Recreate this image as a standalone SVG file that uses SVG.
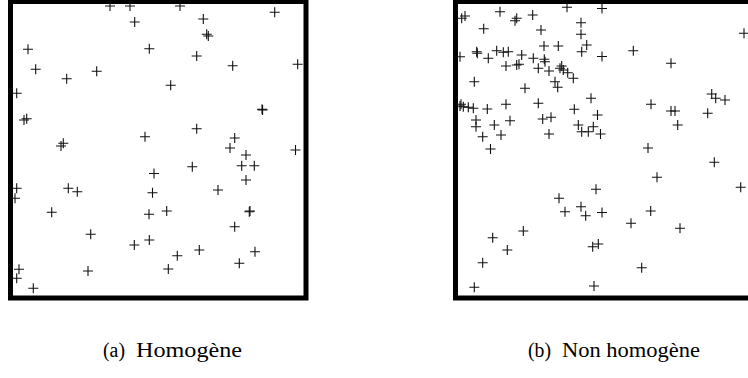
<svg xmlns="http://www.w3.org/2000/svg" xmlns:xlink="http://www.w3.org/1999/xlink" width="748" height="378" viewBox="0 0 748 378">
<style>
.frame{fill:none;stroke:#000;stroke-width:5}
.cap{font-family:"Liberation Serif","DejaVu Serif",serif;font-size:20px;fill:#000}
</style>
<defs>
<path id="p" d="M-5 0H5M0-5V5" stroke="#111" stroke-width="1.1" fill="none"/>
</defs>
<rect width="748" height="378" fill="#fff"/>
<g id="plotA">
<rect class="frame" x="10.5" y="1.5" width="295.5" height="296.5"/>
<g id="pointsA">
<use href="#p" x="110" y="6"/><use href="#p" x="130" y="6"/><use href="#p" x="134.7" y="22"/><use href="#p" x="28" y="49.3"/><use href="#p" x="149.3" y="48.7"/><use href="#p" x="35.7" y="69.3"/><use href="#p" x="66.7" y="78.7"/><use href="#p" x="96.7" y="71.3"/><use href="#p" x="16.7" y="93.3"/><use href="#p" x="24" y="120"/><use href="#p" x="26.7" y="118.7"/><use href="#p" x="145" y="136.7"/><use href="#p" x="61" y="146"/><use href="#p" x="63.3" y="143.3"/>
<use href="#p" x="180" y="6"/><use href="#p" x="203.3" y="19"/><use href="#p" x="206.7" y="34.3"/><use href="#p" x="208.3" y="36"/><use href="#p" x="274.7" y="12.3"/><use href="#p" x="196.7" y="56"/><use href="#p" x="232.7" y="65.7"/><use href="#p" x="297.7" y="64.3"/><use href="#p" x="170.7" y="85.3"/><use href="#p" x="262" y="109.3"/><use href="#p" x="262.6" y="109.9"/><use href="#p" x="196.7" y="128.7"/><use href="#p" x="234.7" y="138"/><use href="#p" x="230" y="148"/><use href="#p" x="295.5" y="150"/>
<use href="#p" x="154" y="173.5"/><use href="#p" x="16.7" y="188.3"/><use href="#p" x="15" y="198.3"/><use href="#p" x="68.3" y="188.3"/><use href="#p" x="77.3" y="191.7"/><use href="#p" x="152.5" y="192.7"/><use href="#p" x="51.7" y="212.3"/><use href="#p" x="149" y="214.3"/><use href="#p" x="90.7" y="234.3"/><use href="#p" x="134.3" y="245"/><use href="#p" x="149.3" y="240"/><use href="#p" x="19" y="269.3"/><use href="#p" x="16.7" y="278.3"/><use href="#p" x="33.3" y="288.3"/><use href="#p" x="88" y="271"/>
<use href="#p" x="246" y="155"/><use href="#p" x="192.3" y="166.7"/><use href="#p" x="241.7" y="165.7"/><use href="#p" x="254.3" y="165.7"/><use href="#p" x="246" y="180"/><use href="#p" x="218" y="190"/><use href="#p" x="166.7" y="211"/><use href="#p" x="249.3" y="211.7"/><use href="#p" x="250" y="211"/><use href="#p" x="234.7" y="226.7"/><use href="#p" x="199.3" y="250"/><use href="#p" x="177.3" y="255.7"/><use href="#p" x="255" y="251.7"/><use href="#p" x="168.3" y="269"/><use href="#p" x="239.3" y="263.3"/>
</g>
</g>
<g id="plotB">
<rect class="frame" x="455.5" y="1.5" width="300" height="296.5"/>
<g id="pointsB">
<use href="#p" x="461.7" y="18.3"/><use href="#p" x="465" y="16"/><use href="#p" x="500" y="11.7"/><use href="#p" x="515" y="20.7"/><use href="#p" x="516.7" y="18.3"/><use href="#p" x="532.7" y="15"/><use href="#p" x="567" y="7.3"/><use href="#p" x="602" y="8.5"/><use href="#p" x="483.7" y="28.7"/><use href="#p" x="541" y="30"/><use href="#p" x="581" y="22.7"/><use href="#p" x="581" y="34.3"/><use href="#p" x="544" y="46"/><use href="#p" x="558.3" y="46"/><use href="#p" x="586.7" y="45"/><use href="#p" x="581.7" y="51.7"/><use href="#p" x="476.7" y="51.7"/><use href="#p" x="477.3" y="53.3"/><use href="#p" x="460" y="56.7"/><use href="#p" x="488.3" y="58.3"/><use href="#p" x="496.7" y="50.7"/><use href="#p" x="503.3" y="52.3"/><use href="#p" x="508.3" y="51.7"/><use href="#p" x="521.7" y="55"/><use href="#p" x="506" y="66"/><use href="#p" x="516.7" y="65"/><use href="#p" x="519" y="64.3"/><use href="#p" x="533.3" y="58.3"/><use href="#p" x="544.3" y="59.3"/><use href="#p" x="545" y="61.7"/><use href="#p" x="538.3" y="68.3"/><use href="#p" x="549" y="71"/><use href="#p" x="561.7" y="66"/><use href="#p" x="563.3" y="70"/><use href="#p" x="560" y="68.3"/><use href="#p" x="567.7" y="72.7"/><use href="#p" x="573.3" y="78.3"/><use href="#p" x="602" y="56.5"/><use href="#p" x="474.3" y="81.7"/><use href="#p" x="525" y="88.3"/><use href="#p" x="555" y="81.7"/><use href="#p" x="557.7" y="87.3"/><use href="#p" x="591" y="98.3"/><use href="#p" x="461" y="104.3"/><use href="#p" x="460" y="106"/><use href="#p" x="463.3" y="106.7"/><use href="#p" x="468.3" y="107.3"/><use href="#p" x="473.3" y="108.3"/><use href="#p" x="487.3" y="109"/><use href="#p" x="506" y="104.3"/><use href="#p" x="538.3" y="103.3"/><use href="#p" x="574.3" y="109.3"/><use href="#p" x="597.5" y="115"/><use href="#p" x="476" y="120"/><use href="#p" x="494.3" y="125"/><use href="#p" x="510" y="120.7"/><use href="#p" x="542.7" y="119"/><use href="#p" x="551" y="117.3"/><use href="#p" x="578.3" y="125"/><use href="#p" x="476" y="126.7"/><use href="#p" x="581.7" y="131.7"/><use href="#p" x="588.3" y="131.7"/><use href="#p" x="593.3" y="126.7"/><use href="#p" x="600.5" y="134"/><use href="#p" x="482.7" y="136.7"/><use href="#p" x="501" y="135"/><use href="#p" x="549" y="134"/><use href="#p" x="490.5" y="149"/>
<use href="#p" x="744" y="33.3"/><use href="#p" x="633.3" y="50.7"/><use href="#p" x="671" y="63.3"/><use href="#p" x="711.7" y="94"/><use href="#p" x="715.7" y="98.3"/><use href="#p" x="725" y="100"/><use href="#p" x="651" y="104.3"/><use href="#p" x="671" y="111"/><use href="#p" x="675" y="111"/><use href="#p" x="707.7" y="113.3"/><use href="#p" x="677.7" y="125"/><use href="#p" x="648" y="148"/>
<use href="#p" x="596" y="189.3"/><use href="#p" x="559" y="198.3"/><use href="#p" x="565" y="211.7"/><use href="#p" x="581" y="206.7"/><use href="#p" x="585.7" y="215.7"/><use href="#p" x="602" y="212.5"/><use href="#p" x="523.3" y="231"/><use href="#p" x="492.7" y="237.7"/><use href="#p" x="507.3" y="250"/><use href="#p" x="482.7" y="262.7"/><use href="#p" x="474.3" y="287.3"/><use href="#p" x="592.7" y="246.7"/><use href="#p" x="598.3" y="244"/><use href="#p" x="594" y="286"/>
<use href="#p" x="714.3" y="162.3"/><use href="#p" x="657" y="177.3"/><use href="#p" x="740.7" y="187.3"/><use href="#p" x="650.7" y="211"/><use href="#p" x="631" y="223.3"/><use href="#p" x="680" y="228.3"/><use href="#p" x="641.7" y="267.7"/>
</g>
</g>
<g id="captions">
<text class="cap" x="103" y="357" textLength="22" lengthAdjust="spacingAndGlyphs">(a)</text>
<text class="cap" x="136" y="357" textLength="106" lengthAdjust="spacingAndGlyphs">Homogène</text>
<text class="cap" x="528" y="357" textLength="23" lengthAdjust="spacingAndGlyphs">(b)</text>
<text class="cap" x="562" y="357" textLength="138" lengthAdjust="spacingAndGlyphs">Non homogène</text>
</g>
</svg>
